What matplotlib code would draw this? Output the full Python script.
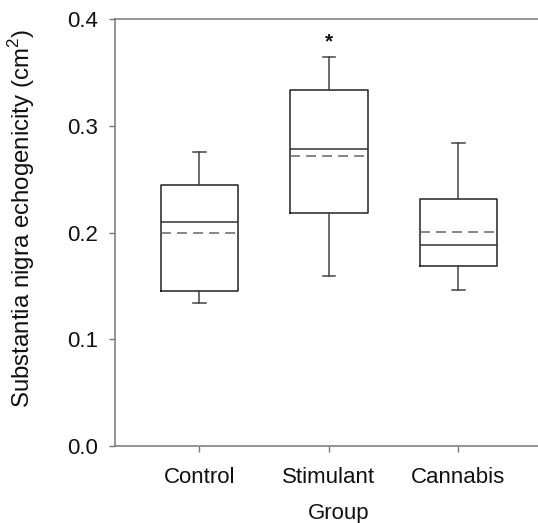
import matplotlib
matplotlib.use("Agg")
import matplotlib.pyplot as plt

plt.rcParams['font.family'] = ['Liberation Sans', 'DejaVu Sans']
plt.rcParams['mathtext.fontset'] = 'custom'
plt.rcParams['mathtext.rm'] = 'Liberation Sans'

# Datos
groups = ["Control", "Stimulant", "Cannabis"]
whislo = [0.134, 0.159, 0.146]
q1 = [0.145, 0.218, 0.169]
med = [0.210, 0.278, 0.188]
mean = [0.200, 0.272, 0.201]
q3 = [0.245, 0.334, 0.232]
whishi = [0.276, 0.365, 0.284]
yticks = [0.0, 0.1, 0.2, 0.3, 0.4]
star_y = 0.379

stats = []
for i in range(len(groups)):
    stats.append({"label": groups[i], "whislo": whislo[i], "q1": q1[i], "med": med[i],
                  "mean": mean[i], "q3": q3[i], "whishi": whishi[i], "fliers": []})

fig = plt.figure(figsize=(5.38, 5.23), dpi=100)
ax = fig.add_axes([0.2138, 0.1472, 0.831, 0.8159])

pos = [1, 2, 3]
ax.bxp(stats, positions=pos, widths=0.6, showmeans=True, meanline=True,
       showfliers=False, capwidths=0.095,
       boxprops=dict(color="#222222", linewidth=1.1),
       medianprops=dict(color="#333333", linewidth=1.1),
       meanprops=dict(color="#666666", linewidth=1.1, linestyle=(0, (6.5, 4))),
       whiskerprops=dict(color="#444444", linewidth=1.1),
       capprops=dict(color="#444444", linewidth=1.1))

ax.text(2, star_y, "*", ha="center", va="center", fontsize=15, fontweight="bold", color="#111111")

ax.set_xlim(0.348, 3.8)
ax.set_ylim(0, 0.4)
ax.set_yticks(yticks)
ax.set_yticklabels(["%.1f" % v for v in yticks])
ax.set_xticks(pos)
ax.set_xticklabels(groups)

for s in ["top", "left", "bottom"]:
    ax.spines[s].set_color("#777777")
    ax.spines[s].set_linewidth(1.1)
ax.spines["right"].set_visible(False)

ax.tick_params(axis="both", direction="out", length=4, width=1.0, color="#777777",
               labelsize=16, labelcolor="#111111", pad=8)
ax.tick_params(axis="x", pad=11)

ax.set_xlabel("Group", fontsize=16, color="#111111", labelpad=11)
ax.set_ylabel("Substantia nigra echogenicity (cm$^{\\mathregular{2}}$)", fontsize=17.3,
              color="#111111")
ax.yaxis.set_label_coords(-0.175, 0.532)

plt.savefig("out.png", dpi=100)
